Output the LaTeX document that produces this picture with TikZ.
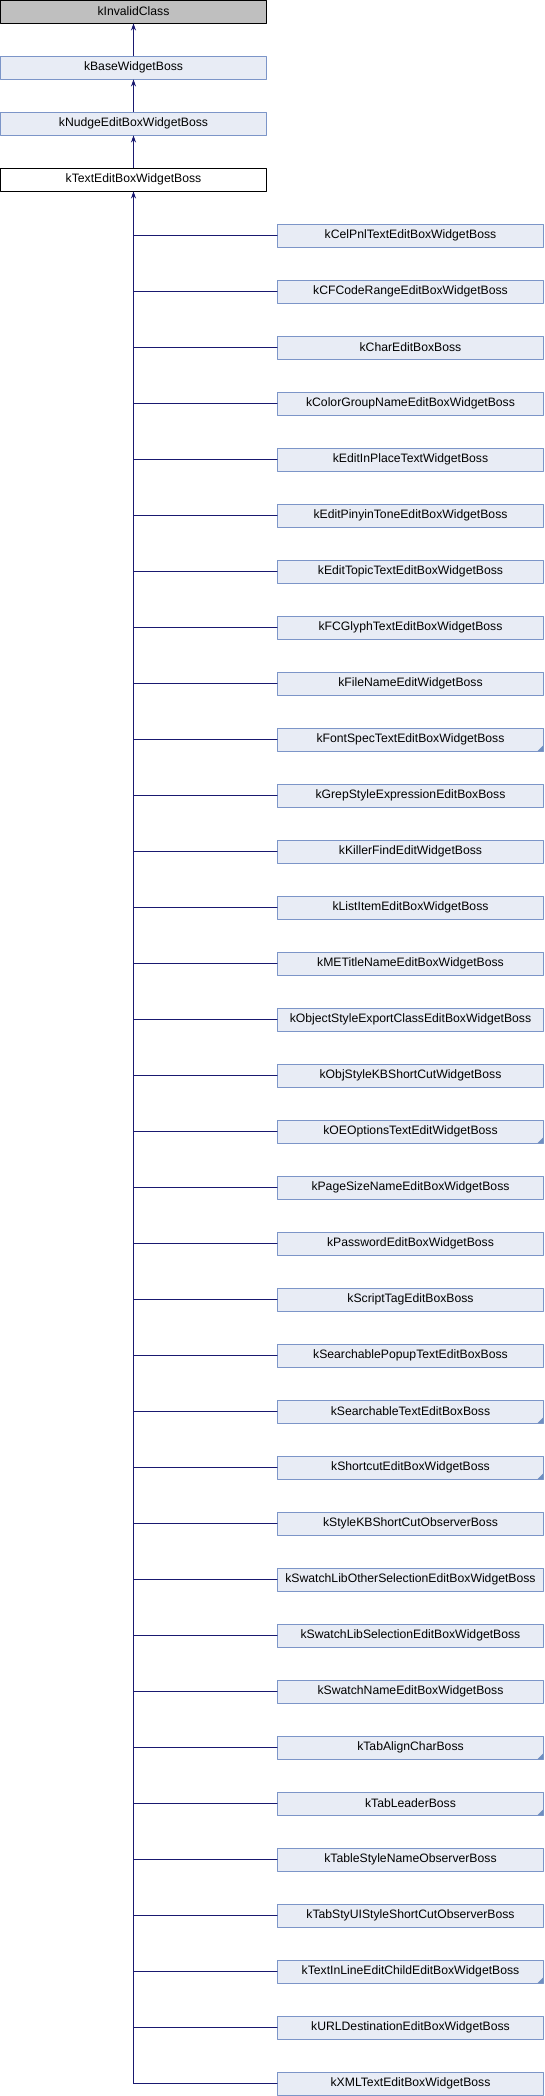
\documentclass[tikz,border=0pt]{standalone}
\usepackage{fontspec}
\setmainfont{Liberation Sans}
\usepackage{xcolor}
\usetikzlibrary{arrows.meta}
\definecolor{edgeblue}{HTML}{191970}
\definecolor{boxfill}{HTML}{E8ECF5}
\definecolor{boxline}{HTML}{7C95C8}
\definecolor{grayfill}{HTML}{BFBFBF}
\definecolor{markblue}{HTML}{6F8FC0}

\tikzset{
  cls/.style={draw=boxline,fill=boxfill,line width=0.9pt,minimum width=266pt,minimum height=23pt,
    inner sep=0pt,font=\fontsize{12.2}{14}\selectfont},
  topcls/.style={cls,draw=black,fill=grayfill},
  curcls/.style={cls,draw=black,fill=white},
  trunc/.style={path picture={\fill[markblue] (path picture bounding box.south east) -- ++(-6pt,0pt) -- ++(6pt,6pt) -- cycle;}},
  edge/.style={draw=edgeblue,line width=0.9pt},
  up/.style={edge,-{Stealth[length=7pt,width=5pt]}}
}

\begin{document}
\begin{tikzpicture}[line cap=round,line join=round,x=1pt,y=-1pt]
\useasboundingbox (0,0) rectangle (544,2096);
% base chain
\node[topcls] (invalid) at (133.5,11.5) {kInvalidClass};
\node[cls] (basewb) at (133.5,67.5) {kBaseWidgetBoss};
\node[cls] (nudge) at (133.5,123.5) {kNudgeEditBoxWidgetBoss};
\node[curcls] (textedit) at (133.5,179.5) {kTextEditBoxWidgetBoss};
\draw[up] (basewb) -- (invalid);
\draw[up] (nudge) -- (basewb);
\draw[up] (textedit) -- (nudge);
% derived classes
\node[cls] (c1) at (410.5,235.5) {kCelPnlTextEditBoxWidgetBoss};
\node[cls] (c2) at (410.5,291.5) {kCFCodeRangeEditBoxWidgetBoss};
\node[cls] (c3) at (410.5,347.5) {kCharEditBoxBoss};
\node[cls] (c4) at (410.5,403.5) {kColorGroupNameEditBoxWidgetBoss};
\node[cls] (c5) at (410.5,459.5) {kEditInPlaceTextWidgetBoss};
\node[cls] (c6) at (410.5,515.5) {kEditPinyinToneEditBoxWidgetBoss};
\node[cls] (c7) at (410.5,571.5) {kEditTopicTextEditBoxWidgetBoss};
\node[cls] (c8) at (410.5,627.5) {kFCGlyphTextEditBoxWidgetBoss};
\node[cls] (c9) at (410.5,683.5) {kFileNameEditWidgetBoss};
\node[cls,trunc] (c10) at (410.5,739.5) {kFontSpecTextEditBoxWidgetBoss};
\node[cls] (c11) at (410.5,795.5) {kGrepStyleExpressionEditBoxBoss};
\node[cls] (c12) at (410.5,851.5) {kKillerFindEditWidgetBoss};
\node[cls] (c13) at (410.5,907.5) {kListItemEditBoxWidgetBoss};
\node[cls] (c14) at (410.5,963.5) {kMETitleNameEditBoxWidgetBoss};
\node[cls] (c15) at (410.5,1019.5) {kObjectStyleExportClassEditBoxWidgetBoss};
\node[cls] (c16) at (410.5,1075.5) {kObjStyleKBShortCutWidgetBoss};
\node[cls,trunc] (c17) at (410.5,1131.5) {kOEOptionsTextEditWidgetBoss};
\node[cls] (c18) at (410.5,1187.5) {kPageSizeNameEditBoxWidgetBoss};
\node[cls] (c19) at (410.5,1243.5) {kPasswordEditBoxWidgetBoss};
\node[cls] (c20) at (410.5,1299.5) {kScriptTagEditBoxBoss};
\node[cls] (c21) at (410.5,1355.5) {kSearchablePopupTextEditBoxBoss};
\node[cls,trunc] (c22) at (410.5,1411.5) {kSearchableTextEditBoxBoss};
\node[cls,trunc] (c23) at (410.5,1467.5) {kShortcutEditBoxWidgetBoss};
\node[cls] (c24) at (410.5,1523.5) {kStyleKBShortCutObserverBoss};
\node[cls] (c25) at (410.5,1579.5) {kSwatchLibOtherSelectionEditBoxWidgetBoss};
\node[cls] (c26) at (410.5,1635.5) {kSwatchLibSelectionEditBoxWidgetBoss};
\node[cls] (c27) at (410.5,1691.5) {kSwatchNameEditBoxWidgetBoss};
\node[cls,trunc] (c28) at (410.5,1747.5) {kTabAlignCharBoss};
\node[cls,trunc] (c29) at (410.5,1803.5) {kTabLeaderBoss};
\node[cls] (c30) at (410.5,1859.5) {kTableStyleNameObserverBoss};
\node[cls] (c31) at (410.5,1915.5) {kTabStyUIStyleShortCutObserverBoss};
\node[cls,trunc] (c32) at (410.5,1971.5) {kTextInLineEditChildEditBoxWidgetBoss};
\node[cls] (c33) at (410.5,2027.5) {kURLDestinationEditBoxWidgetBoss};
\node[cls] (c34) at (410.5,2083.5) {kXMLTextEditBoxWidgetBoss};
% trunk
\coordinate (trunkend) at (textedit.south |- c34.west);
\draw[up] (trunkend) -- (textedit.south);
\draw[edge] (c1.west) -- (textedit.south |- c1.west);
\draw[edge] (c2.west) -- (textedit.south |- c2.west);
\draw[edge] (c3.west) -- (textedit.south |- c3.west);
\draw[edge] (c4.west) -- (textedit.south |- c4.west);
\draw[edge] (c5.west) -- (textedit.south |- c5.west);
\draw[edge] (c6.west) -- (textedit.south |- c6.west);
\draw[edge] (c7.west) -- (textedit.south |- c7.west);
\draw[edge] (c8.west) -- (textedit.south |- c8.west);
\draw[edge] (c9.west) -- (textedit.south |- c9.west);
\draw[edge] (c10.west) -- (textedit.south |- c10.west);
\draw[edge] (c11.west) -- (textedit.south |- c11.west);
\draw[edge] (c12.west) -- (textedit.south |- c12.west);
\draw[edge] (c13.west) -- (textedit.south |- c13.west);
\draw[edge] (c14.west) -- (textedit.south |- c14.west);
\draw[edge] (c15.west) -- (textedit.south |- c15.west);
\draw[edge] (c16.west) -- (textedit.south |- c16.west);
\draw[edge] (c17.west) -- (textedit.south |- c17.west);
\draw[edge] (c18.west) -- (textedit.south |- c18.west);
\draw[edge] (c19.west) -- (textedit.south |- c19.west);
\draw[edge] (c20.west) -- (textedit.south |- c20.west);
\draw[edge] (c21.west) -- (textedit.south |- c21.west);
\draw[edge] (c22.west) -- (textedit.south |- c22.west);
\draw[edge] (c23.west) -- (textedit.south |- c23.west);
\draw[edge] (c24.west) -- (textedit.south |- c24.west);
\draw[edge] (c25.west) -- (textedit.south |- c25.west);
\draw[edge] (c26.west) -- (textedit.south |- c26.west);
\draw[edge] (c27.west) -- (textedit.south |- c27.west);
\draw[edge] (c28.west) -- (textedit.south |- c28.west);
\draw[edge] (c29.west) -- (textedit.south |- c29.west);
\draw[edge] (c30.west) -- (textedit.south |- c30.west);
\draw[edge] (c31.west) -- (textedit.south |- c31.west);
\draw[edge] (c32.west) -- (textedit.south |- c32.west);
\draw[edge] (c33.west) -- (textedit.south |- c33.west);
\draw[edge] (c34.west) -- (trunkend);
\end{tikzpicture}
\end{document}
